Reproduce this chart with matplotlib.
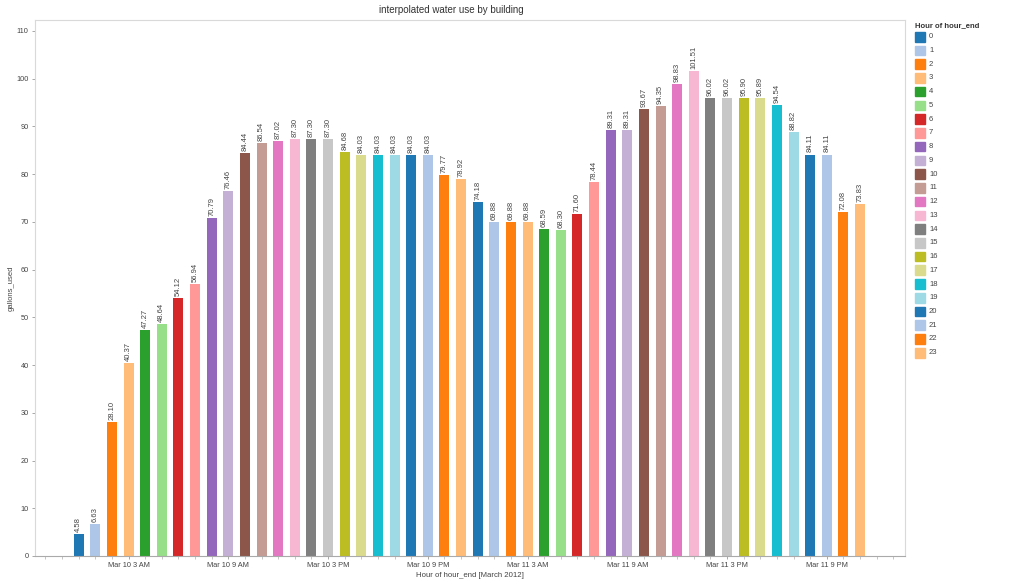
import matplotlib
matplotlib.use('Agg')
import matplotlib.pyplot as plt
from matplotlib.patches import Rectangle
import numpy as np

plt.rcParams['font.family'] = ['Liberation Sans', 'DejaVu Sans']

# gallons used per hour, Mar 10 and Mar 11 2012 (hour 0..23 each day)
mar10 = [4.58, 6.63, 28.10, 40.37, 47.27, 48.64, 54.12, 56.94, 70.79, 76.46, 84.44, 86.54,
         87.02, 87.30, 87.30, 87.30, 84.68, 84.03, 84.03, 84.03, 84.03, 84.03, 79.77, 78.92]
mar11 = [74.18, 69.88, 69.88, 69.88, 68.59, 68.30, 71.60, 78.44, 89.31, 89.31, 93.67, 94.35,
         98.83, 101.51, 96.02, 96.02, 95.90, 95.89, 94.54, 88.82, 84.11, 84.11, 72.08, 73.83]
values = mar10 + mar11
hours = list(range(24))
tick_hours = [3, 9, 15, 21, 27, 33, 39, 45]
tick_labels = ['Mar 10 3 AM', 'Mar 10 9 AM', 'Mar 10 3 PM', 'Mar 10 9 PM',
               'Mar 11 3 AM', 'Mar 11 9 AM', 'Mar 11 3 PM', 'Mar 11 9 PM']

tab20 = plt.get_cmap('tab20').colors
hour_colors = [tab20[h % 20] for h in hours]

x = np.arange(len(values))
colors = [hour_colors[i % 24] for i in x]

fig = plt.figure(figsize=(10.11, 5.85), dpi=100)
ax = fig.add_axes([35/1011, 1-556/585, (905-35)/1011, (556-20)/585])

ax.bar(x, values, width=0.6, color=colors)
for xi, v in zip(x, values):
    ax.annotate(f'{v:.2f}', (xi, v), xytext=(0, 1.5), textcoords='offset points',
                rotation=90, ha='center', va='bottom', fontsize=5.5, color='#444444')

ax.set_xlim(-2.63, 49.7)
ax.set_ylim(0, 112.3)
ax.set_yticks(range(0, 111, 10))
ax.set_xticks(tick_hours)
ax.set_xticklabels(tick_labels)
ax.set_xticks(np.arange(-2, 50), minor=True)
ax.tick_params(axis='both', labelsize=5.3, colors='#999999', labelcolor='#444444', length=2.5, width=0.6)
ax.tick_params(axis='x', which='minor', length=2.5, width=0.6, colors='#bbbbbb')
ax.tick_params(axis='x', pad=2)
ax.tick_params(axis='y', pad=2)

for s in ['top', 'right', 'left']:
    ax.spines[s].set_color('#d9d9d9')
    ax.spines[s].set_linewidth(0.8)
ax.spines['bottom'].set_color('#aaaaaa')
ax.spines['bottom'].set_linewidth(0.8)

ax.set_ylabel('gallons_used', fontsize=5.5, color='#444444', labelpad=1)
ax.set_xlabel('Hour of hour_end [March 2012]', fontsize=5.6, color='#444444', labelpad=2)
fig.text(451/1011, 1-10/585, 'interpolated water use by building', ha='center', va='center',
         fontsize=7, color='#333333')

# legend
fig.text(915/1011, 1-26/585, 'Hour of hour_end', ha='left', va='center', fontsize=5.5,
         fontweight='bold', color='#333333')
for i, h in enumerate(hours):
    yc = 36.7 + i * 13.74
    fig.add_artist(Rectangle((915/1011, 1-(yc+4.8)/585), 9.8/1011, 9.6/585,
                             transform=fig.transFigure, color=hour_colors[h]))
    fig.text(929/1011, 1-yc/585, str(h), ha='left', va='center', fontsize=5.5, color='#444444')

fig.savefig('out.png', dpi=100)
